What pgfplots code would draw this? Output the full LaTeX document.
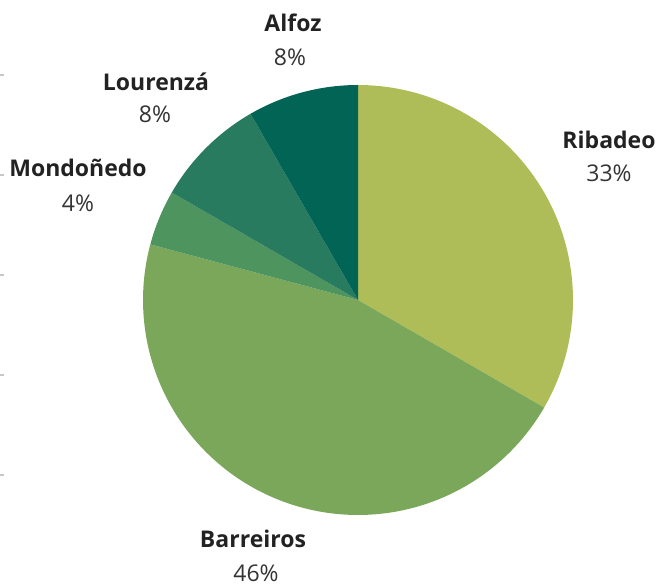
\documentclass[border=0pt]{standalone}
\usepackage{pgfplots}
\pgfplotsset{compat=1.18}
\usepackage{fontspec}
\setmainfont{Open Sans}
\definecolor{cRib}{HTML}{AFBD58}
\definecolor{cBar}{HTML}{7BA75A}
\definecolor{cMon}{HTML}{4E945E}
\definecolor{cLou}{HTML}{297B5F}
\definecolor{cAlf}{HTML}{026455}
\definecolor{lab}{HTML}{222222}
\definecolor{pct}{HTML}{333333}
% values (counts out of total)
\def\vRib{8}\def\vBar{11}\def\vMon{1}\def\vLou{2}\def\vAlf{2}
\pgfmathsetmacro\vTot{\vRib+\vBar+\vMon+\vLou+\vAlf}
\pgfmathsetmacro\aA{90}
\pgfmathsetmacro\aB{\aA-360*\vRib/\vTot}
\pgfmathsetmacro\aC{\aB-360*\vBar/\vTot}
\pgfmathsetmacro\aD{\aC-360*\vMon/\vTot}
\pgfmathsetmacro\aE{\aD-360*\vLou/\vTot}
\pgfmathsetmacro\aF{\aE-360*\vAlf/\vTot}
\tikzset{
  bl/.style={inner sep=0pt, anchor=base, text=lab, font=\fontsize{11.5}{13}\selectfont\bfseries},
  pl/.style={inner sep=0pt, anchor=base, text=pct, font=\fontsize{11.5}{13}\selectfont},
}
\begin{document}
\begin{tikzpicture}
\begin{axis}[
  scale only axis, width=328.5pt, height=292pt,
  xmin=0, xmax=657, ymin=0, ymax=584,
  axis line style={draw=none},
  xtick=\empty,
  ytick={109,209,309,409,509}, yticklabels={},
  ytick pos=left, tick align=inside,
  major tick length=2pt,
  tick style={draw=black!22, line width=1.4pt},
  clip=false,
]
\addplot[fill=cRib, draw=none, domain=\aB:\aA, samples=80] ({358+215*cos(x)},{284+215*sin(x)}) -- (axis cs:358,284) -- cycle;
\addplot[fill=cBar, draw=none, domain=\aC:\aB, samples=100] ({358+215*cos(x)},{284+215*sin(x)}) -- (axis cs:358,284) -- cycle;
\addplot[fill=cMon, draw=none, domain=\aD:\aC, samples=20] ({358+215*cos(x)},{284+215*sin(x)}) -- (axis cs:358,284) -- cycle;
\addplot[fill=cLou, draw=none, domain=\aE:\aD, samples=30] ({358+215*cos(x)},{284+215*sin(x)}) -- (axis cs:358,284) -- cycle;
\addplot[fill=cAlf, draw=none, domain=\aF:\aE, samples=30] ({358+215*cos(x)},{284+215*sin(x)}) -- (axis cs:358,284) -- cycle;
\node[bl] at (axis cs:293,552) {Alfoz};
\node[pl] at (axis cs:290,518) {8\%};
\node[bl] at (axis cs:156,493) {Lourenzá};
\node[pl] at (axis cs:155,461) {8\%};
\node[bl] at (axis cs:78,407) {Mondoñedo};
\node[pl] at (axis cs:78,372) {4\%};
\node[bl] at (axis cs:609,435) {Ribadeo};
\node[pl] at (axis cs:609,402) {33\%};
\node[bl] at (axis cs:253,37) {Barreiros};
\node[pl] at (axis cs:256,3) {46\%};
\coordinate (bbl) at (rel axis cs:0,0);
\coordinate (btr) at (rel axis cs:1,1);
\end{axis}
\pgfresetboundingbox
\path (bbl) rectangle (btr);
\end{tikzpicture}
\end{document}
